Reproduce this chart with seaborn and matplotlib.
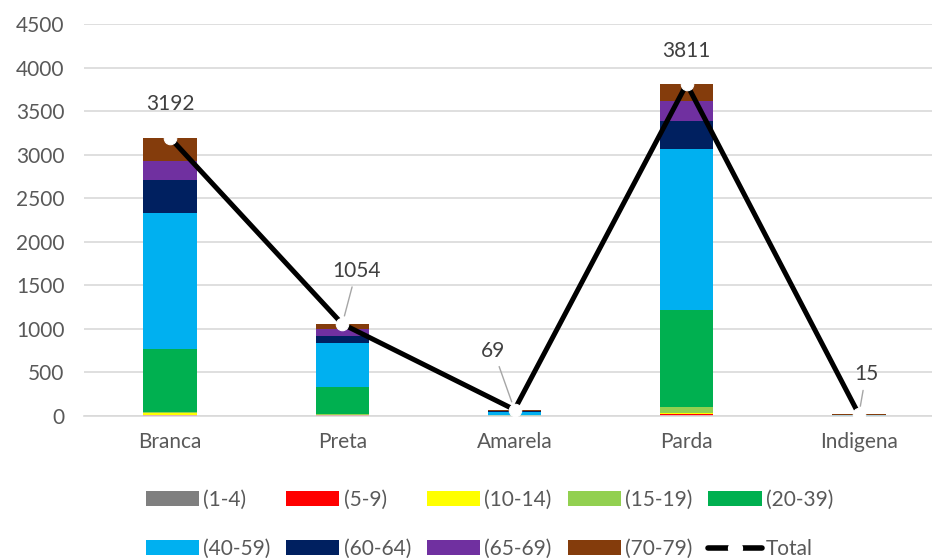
import numpy as np
import matplotlib
matplotlib.use("Agg")
import matplotlib.pyplot as plt
import seaborn as sns
from matplotlib.patches import Patch
from matplotlib.lines import Line2D

categories = ["Branca", "Preta", "Amarela", "Parda", "Indigena"]
age_groups = ["(1-4)", "(5-9)", "(10-14)", "(15-19)", "(20-39)",
              "(40-59)", "(60-64)", "(65-69)", "(70-79)"]
v_1_4 = [0, 0, 0, 0, 0]
v_5_9 = [5, 3, 0, 20, 0]
v_10_14 = [25, 5, 0, 10, 0]
v_15_19 = [15, 15, 0, 70, 0]
v_20_39 = [717, 305, 10, 1119, 0]
v_40_59 = [1564, 502, 30, 1850, 11]
v_60_64 = [377, 91, 15, 320, 1]
v_65_69 = [220, 76, 4, 229, 0]
v_70_79 = [269, 57, 10, 193, 3]
totals = [3192, 1054, 69, 3811, 15]
series = [v_1_4, v_5_9, v_10_14, v_15_19, v_20_39, v_40_59, v_60_64, v_65_69, v_70_79]
colors = ["#7f7f7f", "#ff0000", "#ffff00", "#92d050", "#00b050",
          "#00b0f0", "#002060", "#7030a0", "#843c0c"]
# label offsets in pixels (dx, dy) and whether leader line shown
label_offsets = [(0, 34), (14, 53), (-21, 59), (0, 33), (7, 40)]
leaders = [False, True, True, False, True]

sns.set_theme(style="white")
plt.rcParams["font.family"] = ["Lato", "DejaVu Sans"]

fig = plt.figure(figsize=(9.32, 5.58), dpi=100)
ax = fig.add_axes([84 / 932, 142.3 / 558, 861 / 932, 391.7 / 558])

cum = np.cumsum(np.array(series), axis=0)
for i in range(len(series) - 1, -1, -1):
    sns.barplot(x=categories, y=cum[i], color=colors[i], width=0.31,
                saturation=1, ax=ax, linewidth=0, zorder=2)

xpos = np.arange(len(categories))
sns.lineplot(x=xpos, y=totals, color="black", lw=3.6, marker="o", markersize=9,
             markerfacecolor="white", markeredgecolor="white", ax=ax, zorder=5)

for i, (x, t) in enumerate(zip(xpos, totals)):
    dx, dy = label_offsets[i]
    kw = {}
    if leaders[i]:
        kw["arrowprops"] = dict(arrowstyle="-", color="#a6a6a6", lw=1,
                                shrinkA=2, shrinkB=6)
    ax.annotate(str(t), xy=(x, t), xytext=(dx, dy), textcoords="offset pixels",
                ha="center", va="center", fontsize=15, color="#404040", zorder=6, **kw)

ax.set_xlim(-0.5, 4.5)
ax.set_ylim(0, 4500)
ax.set_yticks(np.arange(0, 4501, 500))
ax.yaxis.grid(True, color="#d9d9d9", lw=1.2, zorder=0)
ax.set_axisbelow(True)
for s in ["top", "right", "left"]:
    ax.spines[s].set_visible(False)
ax.spines["bottom"].set_color("#d9d9d9")
ax.spines["bottom"].set_linewidth(1.2)
ax.tick_params(axis="both", length=0, labelsize=15, colors="#595959")
ax.tick_params(axis="y", pad=14)
ax.tick_params(axis="x", pad=12)
ax.set_xlabel("")
ax.set_ylabel("")
if ax.get_legend():
    ax.get_legend().remove()

handles = [Patch(facecolor=c, edgecolor="none") for c in colors]
handles.append(Line2D([0], [0], color="black", lw=4, marker="o", markersize=10,
                      markerfacecolor="white", markeredgecolor="white"))
labels = age_groups + ["Total"]
order = [0, 5, 1, 6, 2, 7, 3, 8, 4, 9]
leg = fig.legend([handles[i] for i in order], [labels[i] for i in order],
                 loc="center", bbox_to_anchor=(0.525, 0.060), ncol=5, frameon=False,
                 fontsize=15, handlelength=2.55, handleheight=0.72,
                 handletextpad=0.2, columnspacing=0.77, labelspacing=1.4,
                 labelcolor="#595959")

fig.savefig("out.png", dpi=100)
